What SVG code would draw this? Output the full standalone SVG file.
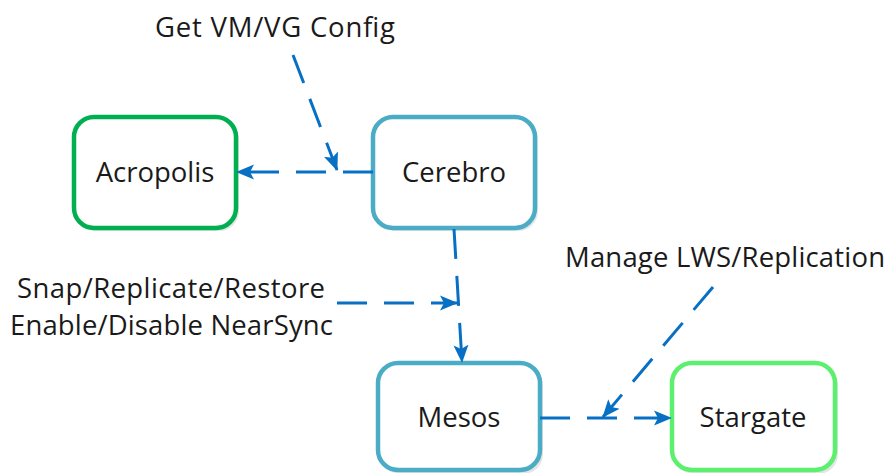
<svg xmlns="http://www.w3.org/2000/svg" width="893" height="473" viewBox="0 0 893 473">
<style>
.box{fill:#fff;stroke-width:4.5}
.shadow{fill:#000;opacity:0.10}
.lbl{font-family:"Open Sans","Noto Sans","Liberation Sans",sans-serif;font-size:27.5px;fill:#1a1a1a}
.nt{text-anchor:middle}
.con{fill:none;stroke:#0870C4;stroke-width:3;stroke-dasharray:30 17}
</style>
<defs>
<marker id="ah" markerUnits="userSpaceOnUse" markerWidth="18" markerHeight="18" viewBox="0 0 18 18" refX="17" refY="9" orient="auto">
<path d="M0,1.5 L18,9 L0,16.5 L4,9 Z" fill="#0870C4"/>
</marker>
</defs>
<rect width="893" height="473" fill="#fff"/>
<g id="acropolis">
<rect class="shadow" x="77" y="120" width="162" height="111" rx="20"/>
<rect class="box" x="74" y="117" width="162" height="111" rx="20" stroke="#00B050"/>
<text class="lbl nt" x="155" y="182">Acropolis</text>
</g>
<g id="cerebro">
<rect class="shadow" x="376" y="120" width="162" height="111" rx="20"/>
<rect class="box" x="373" y="117" width="162" height="111" rx="20" stroke="#4BACC6"/>
<text class="lbl nt" x="454" y="182">Cerebro</text>
</g>
<g id="mesos">
<rect class="shadow" x="381" y="366" width="162" height="108" rx="20"/>
<rect class="box" x="378" y="363" width="162" height="107" rx="20" stroke="#4BACC6"/>
<text class="lbl nt" x="459" y="427">Mesos</text>
</g>
<g id="stargate">
<rect class="shadow" x="675" y="366" width="163" height="108" rx="20"/>
<rect class="box" x="672" y="363" width="163" height="107" rx="20" stroke="#5CF06E"/>
<text class="lbl nt" x="753" y="427">Stargate</text>
</g>
<g id="connectors">
<line class="con" x1="373" y1="172" x2="237" y2="172" marker-end="url(#ah)"/>
<line class="con" x1="293" y1="55" x2="337" y2="170" marker-end="url(#ah)"/>
<line class="con" x1="454" y1="229" x2="462" y2="362" marker-end="url(#ah)"/>
<line class="con" x1="337" y1="303" x2="457" y2="303" marker-end="url(#ah)"/>
<line class="con" x1="540" y1="418" x2="671" y2="418" marker-end="url(#ah)"/>
<line class="con" x1="713" y1="287" x2="603" y2="417" marker-end="url(#ah)"/>
</g>
<g id="labels">
<text class="lbl" x="155" y="37" textLength="240" lengthAdjust="spacing">Get VM/VG Config</text>
<text class="lbl" x="17" y="298" textLength="308" lengthAdjust="spacing">Snap/Replicate/Restore</text>
<text class="lbl" x="10" y="335" textLength="323" lengthAdjust="spacing">Enable/Disable NearSync</text>
<text class="lbl" x="565" y="267" textLength="320" lengthAdjust="spacing">Manage LWS/Replication</text>
</g>
</svg>
